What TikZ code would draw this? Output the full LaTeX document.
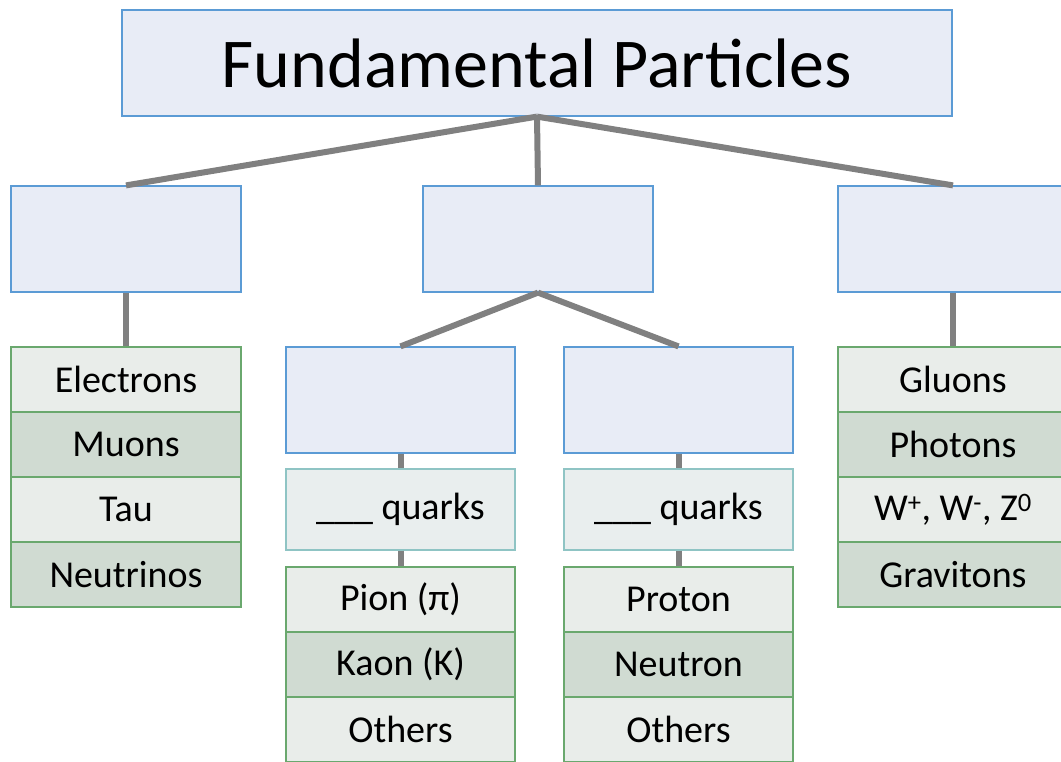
\documentclass[tikz,border=0pt]{standalone}
\usepackage{fontspec}
\setmainfont{Carlito}
\usepackage{xcolor}
\usepackage{tikz}
\usetikzlibrary{positioning}

\definecolor{boxblue}{RGB}{232,236,246}
\definecolor{edgeblue}{RGB}{91,155,213}
\definecolor{rowlight}{RGB}{233,237,234}
\definecolor{rowdark}{RGB}{208,219,210}
\definecolor{edgegreen}{RGB}{106,168,110}
\definecolor{quarkfill}{RGB}{233,238,238}
\definecolor{edgeteal}{RGB}{143,196,196}
\definecolor{linkgray}{RGB}{128,128,128}

\begin{document}
\begin{tikzpicture}[x=1pt,y=-1pt,
    catbox/.style={draw=edgeblue, fill=boxblue, line width=1.2pt, minimum width=230pt, minimum height=106pt, inner sep=0pt},
    rowbox/.style={draw=edgegreen, line width=1.2pt, minimum width=230pt, minimum height=65pt, inner sep=0pt, font=\fontsize{38}{42}\selectfont},
    quarkbox/.style={draw=edgeteal, fill=quarkfill, line width=1.2pt, minimum width=229pt, minimum height=81pt, inner sep=0pt, font=\fontsize{38}{42}\selectfont},
    link/.style={draw=linkgray, line width=6pt}]
\clip (0,0) rectangle (1061,761);

\node[catbox, minimum width=830pt, font=\fontsize{70}{80}\selectfont] (top) at (537,63) {Fundamental Particles};

\node[catbox] (leptons) at (126,239) {};
\node[catbox] (hadrons) at (538,239) {};
\node[catbox] (bosons) at (953,239) {};

\node[catbox, minimum width=229pt] (mesons) at (400.5,400) {};
\node[catbox, minimum width=229pt] (baryons) at (678.5,400) {};

\node[quarkbox] (mquarks) at (400.5,509.5) {\_\_\_ quarks};
\node[quarkbox] (bquarks) at (678.5,509.5) {\_\_\_ quarks};

% lists
\foreach \txt/\shade [count=\i] in {Electrons/rowlight, Muons/rowdark, Tau/rowlight, Neutrinos/rowdark} {
    \node[rowbox, fill=\shade] (lep\i) at (126,314.5+65*\i) {\txt};
}
\foreach \txt/\shade [count=\i] in {Gluons/rowlight, Photons/rowdark, {W\textsuperscript{+}, W\textsuperscript{-}, Z\textsuperscript{0}}/rowlight, Gravitons/rowdark} {
    \node[rowbox, fill=\shade] (bos\i) at (953,314.5+65*\i) {\txt};
}
\foreach \txt/\shade [count=\i] in {Pion (π)/rowlight, Kaon (K)/rowdark, Others/rowlight} {
    \node[rowbox, minimum width=229pt, fill=\shade] (mes\i) at (400.5,534.5+65*\i) {\txt};
}
\foreach \txt/\shade [count=\i] in {Proton/rowlight, Neutron/rowdark, Others/rowlight} {
    \node[rowbox, minimum width=229pt, fill=\shade] (bar\i) at (678.5,534.5+65*\i) {\txt};
}

\draw[link] (top.south) -- (leptons.north);
\draw[link] (top.south) -- (hadrons.north);
\draw[link] (top.south) -- (bosons.north);
\draw[link] (leptons.south) -- (lep1.north);
\draw[link] (bosons.south) -- (bos1.north);
\draw[link] (hadrons.south) -- (mesons.north);
\draw[link] (hadrons.south) -- (baryons.north);
\draw[link] (mesons.south) -- (mquarks.north);
\draw[link] (baryons.south) -- (bquarks.north);
\draw[link] (mquarks.south) -- (mes1.north);
\draw[link] (bquarks.south) -- (bar1.north);

\end{tikzpicture}
\end{document}
